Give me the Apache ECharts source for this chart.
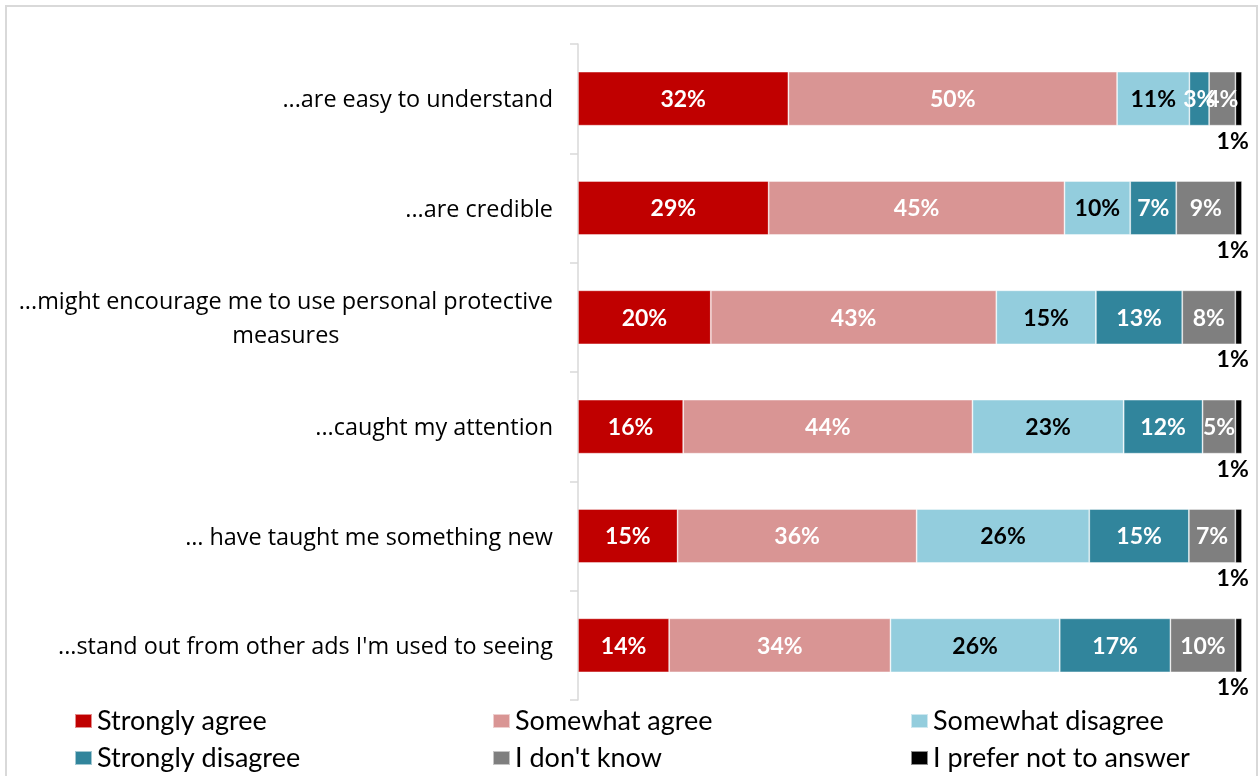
<!DOCTYPE html>
<html>
<head>
<meta charset="utf-8">
<script src="https://cdn.jsdelivr.net/npm/echarts@6/dist/echarts.min.js"></script>
<style>
  html, body { margin: 0; padding: 0; background: #fff; }
  #chart { width: 1259px; height: 776px; }
</style>
</head>
<body>
<div id="chart"></div>
<script>
// Statements rated by respondents (top to bottom)
const statements = [
  '...are easy to understand',
  '...are credible',
  '...might encourage me to use personal protective\nmeasures',
  '...caught my attention',
  '\u2026 have taught me something new',
  "...stand out from other ads I'm used to seeing"
];

// Response shares in percent, one value per statement
const strongAgree    = [32, 29, 20, 16, 15, 14];
const someAgree      = [50, 45, 43, 44, 36, 34];
const someDisagree   = [11, 10, 15, 23, 26, 26];
const strongDisagree = [3, 7, 13, 12, 15, 17];
const dontKnow       = [4, 9, 8, 5, 7, 10];
const noAnswer       = [1, 1, 1, 1, 1, 1];

const responseNames = ['Strongly agree', 'Somewhat agree', 'Somewhat disagree',
                       'Strongly disagree', "I don't know", 'I prefer not to answer'];
const responseValues = [strongAgree, someAgree, someDisagree, strongDisagree, dontKnow, noAnswer];
const responseColors = ['#C00000', '#D99594', '#93CDDD', '#31859C', '#7F7F7F', '#000000'];
const labelColors    = ['#fff', '#fff', '#000', '#fff', '#fff', '#000'];

// 100% stacked: each row is scaled by its own total
const rowTotals = statements.map((_, i) => responseValues.reduce((s, arr) => s + arr[i], 0));

const labelFont = 'Lato, "Liberation Sans", sans-serif';

const series = responseNames.map((name, k) => {
  const last = k === responseNames.length - 1;
  return {
    name,
    type: 'bar',
    stack: 'all',
    barWidth: 54,
    itemStyle: { color: responseColors[k], borderColor: 'rgba(255,255,255,0.55)', borderWidth: 0.8 },
    label: {
      show: true,
      position: last ? 'bottom' : 'inside',
      distance: 4,
      offset: last ? [-6, 0] : [0, 1],
      color: labelColors[k],
      fontFamily: labelFont,
      fontWeight: 'bold',
      fontSize: 23,
      formatter: p => p.data.raw + '%'
    },
    emphasis: { disabled: true },
    data: responseValues[k].map((v, i) => ({ value: v / rowTotals[i] * 100, raw: v }))
  };
});

// Legend laid out as three columns of two entries
const legendFont = { fontFamily: 'Lato, "Liberation Sans", sans-serif', fontSize: 27, lineHeight: 28, color: '#000' };
const legendColumns = [
  { left: 74, data: ['Strongly agree', 'Strongly disagree'] },
  { left: 492, data: ['Somewhat agree', "I don't know"] },
  { left: 910, data: ['Somewhat disagree', 'I prefer not to answer'] }
];
const legends = legendColumns.map(c => ({
  orient: 'vertical',
  left: c.left,
  top: 707,
  padding: 0,
  itemGap: 9,
  itemWidth: 17,
  itemHeight: 14,
  icon: 'rect',
  selectedMode: false,
  textStyle: legendFont,
  data: c.data
}));

const axisFont = '"Open Sans", sans-serif';

const chart = echarts.init(document.getElementById('chart'), null, { renderer: 'canvas' });
chart.setOption({
  animation: false,
  backgroundColor: '#fff',
  graphic: [{
    type: 'rect',
    shape: { x: 6, y: 6, width: 1251, height: 900 },
    style: { fill: 'none', stroke: '#D9D9D9', lineWidth: 2 },
    silent: true
  }],
  legend: legends,
  grid: { left: 578, right: 17, top: 44, bottom: 76, containLabel: false },
  xAxis: {
    type: 'value',
    min: 0,
    max: 100,
    show: false
  },
  yAxis: {
    type: 'category',
    inverse: true,
    data: statements,
    axisLine: { show: true, lineStyle: { color: '#D9D9D9', width: 1.5 } },
    axisTick: { show: true, length: 8, lineStyle: { color: '#D9D9D9', width: 1.5 } },
    axisLabel: {
      margin: 25,
      color: '#000',
      fontFamily: axisFont,
      fontSize: 23.4,
      lineHeight: 34,
      padding: [4, 0, 0, 0],
      formatter: v => v.split('\n').map(s => '{c|' + s + '}').join('\n'),
      rich: { c: { align: 'center', fontFamily: axisFont, fontSize: 23.4, color: '#000', lineHeight: 34 } }
    },
    splitLine: { show: false }
  },
  series
});
</script>
</body>
</html>
